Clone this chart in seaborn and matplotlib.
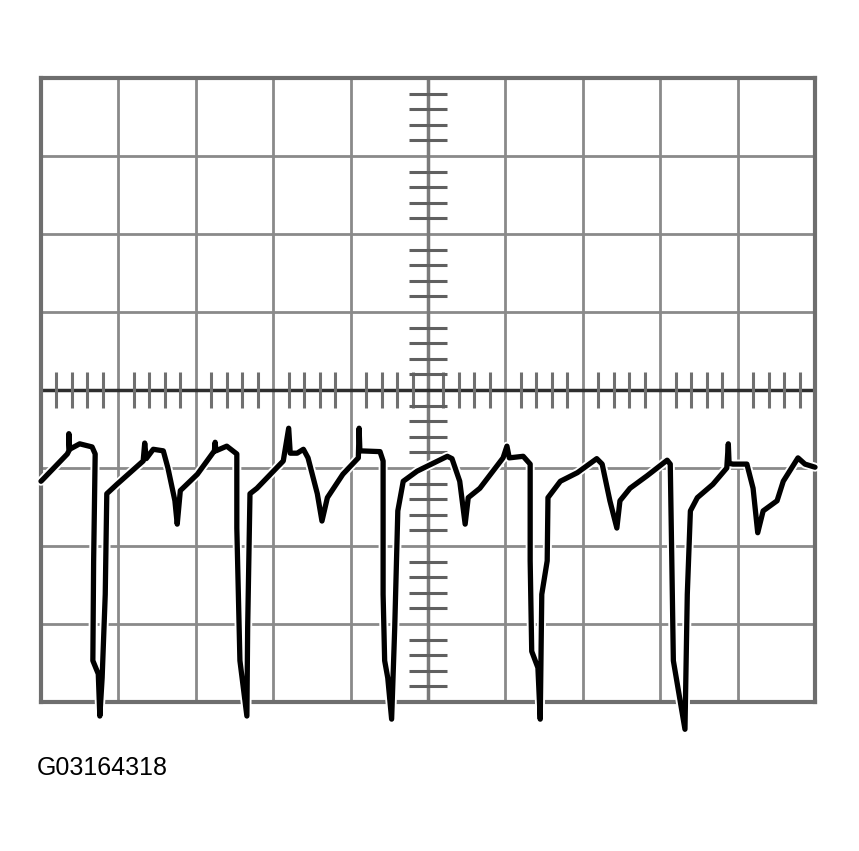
import numpy as np
import pandas as pd
import matplotlib.pyplot as plt
import seaborn as sns
from matplotlib import patheffects as pe

sns.set_style("white")
plt.rcParams['font.family'] = ['Liberation Sans', 'DejaVu Sans']

# trace, in divisions (10 x 8 grid, 0 = centre line)
t_div = [0.00, 0.03, 0.34, 0.36, 0.36, 0.37, 0.50, 0.66, 0.70, 0.68, 0.67, 0.74, 0.76, 0.79,
         0.83, 0.85, 0.98, 1.32, 1.34, 1.36, 1.45, 1.58, 1.64, 1.73, 1.76, 1.80, 2.02, 2.24,
         2.25, 2.26, 2.40, 2.53, 2.53, 2.55, 2.57, 2.66, 2.67, 2.70, 2.79, 3.13, 3.20, 3.22,
         3.31, 3.39, 3.45, 3.57, 3.63, 3.70, 3.90, 4.10, 4.11, 4.12, 4.38, 4.42, 4.42, 4.44,
         4.48, 4.53, 4.57, 4.61, 4.68, 4.86, 5.25, 5.31, 5.41, 5.48, 5.52, 5.67, 5.97, 6.02,
         6.05, 6.23, 6.32, 6.32, 6.34, 6.42, 6.45, 6.47, 6.54, 6.55, 6.71, 6.93, 7.18, 7.25,
         7.35, 7.44, 7.48, 7.61, 7.83, 8.09, 8.13, 8.15, 8.17, 8.32, 8.35, 8.39, 8.48, 8.68,
         8.86, 8.88, 8.89, 8.94, 9.12, 9.20, 9.26, 9.33, 9.51, 9.59, 9.78, 9.87, 10.00]
v_div = [-1.17, -1.14, -0.82, -0.78, -0.56, -0.76, -0.69, -0.73, -0.82, -2.19, -3.47, -3.64, -4.18, -3.69,
         -2.62, -1.33, -1.21, -0.91, -0.68, -0.88, -0.76, -0.78, -1.00, -1.42, -1.72, -1.29, -1.08, -0.78,
         -0.67, -0.78, -0.72, -0.82, -1.77, -2.62, -3.47, -4.18, -3.05, -1.33, -1.26, -0.91, -0.49, -0.81,
         -0.81, -0.76, -0.87, -1.33, -1.68, -1.38, -1.08, -0.87, -0.49, -0.78, -0.79, -0.91, -2.62, -3.47,
         -3.69, -4.22, -3.05, -1.55, -1.17, -1.04, -0.85, -0.88, -1.17, -1.72, -1.38, -1.26, -0.87, -0.72,
         -0.87, -0.85, -0.95, -2.19, -3.35, -3.56, -4.22, -2.62, -2.19, -1.38, -1.17, -1.06, -0.88, -0.95,
         -1.42, -1.77, -1.42, -1.26, -1.10, -0.90, -0.95, -2.19, -3.47, -4.35, -2.62, -1.55, -1.38, -1.21,
         -1.00, -0.69, -0.94, -0.95, -0.95, -1.26, -1.83, -1.55, -1.42, -1.17, -0.87, -0.95, -0.99]

label = 'G03164318'

df = pd.DataFrame({'t': t_div, 'v': v_div})

fig = plt.figure(figsize=(8.59, 8.51), dpi=100)
ax = fig.add_axes([41 / 859, 1 - 702 / 851, 774 / 859, 624 / 851])

# graticule
grid_c = '#8a8a8a'
for i in range(1, 10):
    if i != 5:
        ax.axvline(i, color=grid_c, lw=2, zorder=1)
for j in range(-3, 4):
    if j != 0:
        ax.axhline(j, color=grid_c, lw=2, zorder=1)
ax.axvline(5, color='#7a7a7a', lw=2.5, zorder=1)
ax.axhline(0, color='#2e2e2e', lw=2.5, zorder=1)

# small ticks on the centre lines
xt = np.round(np.arange(0.2, 10, 0.2), 2)
xt = xt[np.abs(xt - np.round(xt)) > 0.01]
ax.vlines(xt, -0.23, 0.23, color='#707070', lw=2.2, zorder=1)
yt = np.round(np.arange(-3.8, 4, 0.2), 2)
yt = yt[np.abs(yt - np.round(yt)) > 0.01]
ax.hlines(yt, 4.76, 5.24, color='#606060', lw=2.2, zorder=1)

sns.lineplot(data=df, x='t', y='v', sort=False, estimator=None, color='black',
             lw=3.8, ax=ax, zorder=3)
trace = ax.lines[-1]
trace.set_clip_on(False)
trace.set_solid_joinstyle('round')
trace.set_solid_capstyle('round')
trace.set_path_effects([pe.Stroke(linewidth=6.5, foreground='white'), pe.Normal()])

ax.set_xlim(0, 10)
ax.set_ylim(-4, 4)
ax.set_xticks([])
ax.set_yticks([])
ax.set_xlabel('')
ax.set_ylabel('')
for s in ax.spines.values():
    s.set_color('#6e6e6e')
    s.set_linewidth(3)
    s.set_zorder(2)

fig.text(37 / 859, 1 - 768 / 851, label, fontsize=18, va='center', ha='left', color='black')

fig.savefig('out.png', dpi=100)
